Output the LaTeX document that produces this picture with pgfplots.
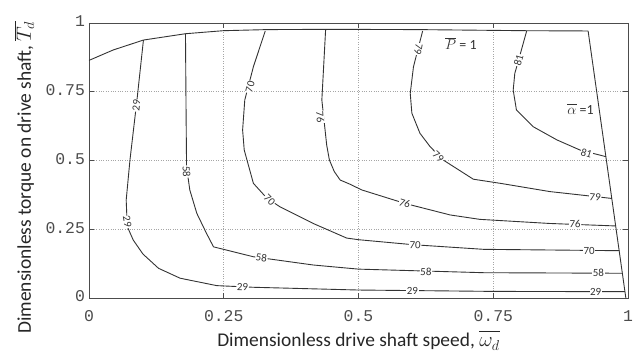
\documentclass[border=0pt]{standalone}
\usepackage{pgfplots}
\pgfplotsset{compat=1.18}
\usepackage{fontspec}
\setmainfont{Carlito}
\setmonofont{Liberation Mono}

\tikzset{
  clab/.style={fill=white, inner sep=0.6bp, text=black!80,
               font=\fontsize{11}{12}\selectfont},
  ctr/.style={black!80, line width=0.9pt, solid, mark=none},
  ann/.style={font=\fontsize{14}{15}\selectfont, text=black!80}
}

\begin{document}
\begin{tikzpicture}
\begin{axis}[
  scale only axis, width=539bp, height=275bp,
  xmin=0, xmax=1, ymin=0, ymax=1,
  xtick={0,0.25,0.5,0.75,1}, ytick={0,0.25,0.5,0.75,1},
  xticklabels={0,0.25,0.5,0.75,1}, yticklabels={0,0.25,0.5,0.75,1},
  tick align=inside, major tick length=5bp,
  xtick pos=both, ytick pos=both,
  grid=major, grid style={dotted, gray!70, line width=0.6pt},
  axis line style={black!70, line width=0.8pt},
  tick style={black!70, line width=0.8pt},
  /pgf/number format/assume math mode=true,
  ticklabel style={font=\fontsize{16.5}{18}\ttfamily, text=black!70},
  xticklabel style={anchor=base, yshift=-23bp},
  yticklabel style={anchor=east, xshift=-0.5bp, yshift=1.5bp},
  xlabel={Dimensionless drive shaft speed, $\overline{\vphantom{T}\omega_d}$},
  ylabel={Dimensionless torque on drive shaft, $\overline{T_d}$},
  label style={font=\fontsize{19.5}{22}\selectfont, text=black!85},
  xlabel style={at={(axis description cs:0.5,-0.178)}, anchor=base},
  ylabel style={at={(axis description cs:-0.1076,0.438)}, anchor=base},
  clip=false,
]
\coordinate (ll) at (rel axis cs:0,0);
\coordinate (ur) at (rel axis cs:1,1);

% operating envelope: power limit and ratio limit
\addplot[ctr] coordinates {(0,0.864) (0.045,0.902) (0.101,0.938) (0.179,0.961)
  (0.249,0.972) (0.33,0.976) (0.45,0.977) (0.61,0.976) (0.81,0.972) (0.926,0.971)};
\addplot[ctr] coordinates {(0.926,0.971) (0.996,0)};

% efficiency contours
\addplot[ctr] coordinates {(0.101,0.938) (0.089,0.72) (0.076,0.502) (0.069,0.356)
  (0.071,0.26) (0.082,0.211) (0.1,0.16) (0.129,0.108) (0.169,0.072)
  (0.237,0.045) (0.305,0.039) (0.5,0.029) (0.75,0.024) (0.994,0.023)};
\addplot[ctr] coordinates {(0.179,0.961) (0.18,0.7) (0.181,0.477) (0.187,0.393)
  (0.2,0.308) (0.218,0.235) (0.231,0.186) (0.305,0.15) (0.416,0.12)
  (0.5,0.105) (0.732,0.092) (0.989,0.09)};
\addplot[ctr] coordinates {(0.327,0.971) (0.305,0.841) (0.289,0.72) (0.285,0.611)
  (0.288,0.538) (0.305,0.417) (0.33,0.363) (0.354,0.332) (0.416,0.271)
  (0.478,0.218) (0.5,0.212) (0.6,0.194) (0.732,0.177) (0.984,0.172)};
\addplot[ctr] coordinates {(0.439,0.976) (0.432,0.72) (0.441,0.556) (0.446,0.502)
  (0.455,0.46) (0.466,0.429) (0.484,0.414) (0.506,0.393) (0.586,0.344)
  (0.67,0.302) (0.725,0.286) (0.855,0.271) (0.977,0.262)};
\addplot[ctr] coordinates {(0.619,0.971) (0.602,0.841) (0.596,0.744) (0.599,0.672)
  (0.614,0.599) (0.633,0.55) (0.657,0.502) (0.713,0.432) (0.763,0.417)
  (0.855,0.387) (0.970,0.362)};
\addplot[ctr] coordinates {(0.812,0.971) (0.797,0.865) (0.79,0.817) (0.787,0.756)
  (0.793,0.684) (0.824,0.623) (0.868,0.575) (0.911,0.538) (0.959,0.514)};

% contour labels
\node[clab, rotate=84]  at (axis cs:0.088,0.70)  {29};
\node[clab, rotate=-80] at (axis cs:0.071,0.277) {29};
\node[clab, rotate=-2]  at (axis cs:0.285,0.041) {29};
\node[clab]             at (axis cs:0.60,0.026)  {29};
\node[clab]             at (axis cs:0.94,0.023)  {29};
\node[clab, rotate=-88] at (axis cs:0.181,0.46)  {58};
\node[clab, rotate=-8]  at (axis cs:0.32,0.146)  {58};
\node[clab, rotate=-2]  at (axis cs:0.625,0.094) {58};
\node[clab]             at (axis cs:0.945,0.09)  {58};
\node[clab, rotate=76]  at (axis cs:0.299,0.767) {70};
\node[clab, rotate=-45] at (axis cs:0.335,0.357) {70};
\node[clab, rotate=-4]  at (axis cs:0.605,0.193) {70};
\node[clab]             at (axis cs:0.928,0.172) {70};
\node[clab, rotate=-86] at (axis cs:0.429,0.658) {76};
\node[clab, rotate=-18] at (axis cs:0.586,0.344) {76};
\node[clab, rotate=-3]  at (axis cs:0.902,0.268) {76};
\node[clab, rotate=-100] at (axis cs:0.611,0.905) {79};
\node[clab, rotate=-42] at (axis cs:0.648,0.514) {79};
\node[clab, rotate=-6]  at (axis cs:0.939,0.366) {79};
\node[clab, rotate=74]  at (axis cs:0.797,0.865) {81};
\node[clab, rotate=-17] at (axis cs:0.923,0.526) {81};

% limit annotations
\node[ann] at (axis cs:0.690,0.926) {$\overline{P}$ = 1};
\node[ann] at (axis cs:0.912,0.687) {$\overline{\vphantom{T}\alpha}$ =1};
\end{axis}
\pgfresetboundingbox
\path ([shift={(-89bp,-56bp)}]ll) rectangle ([shift={(12bp,23bp)}]ur);
\end{tikzpicture}
\end{document}
